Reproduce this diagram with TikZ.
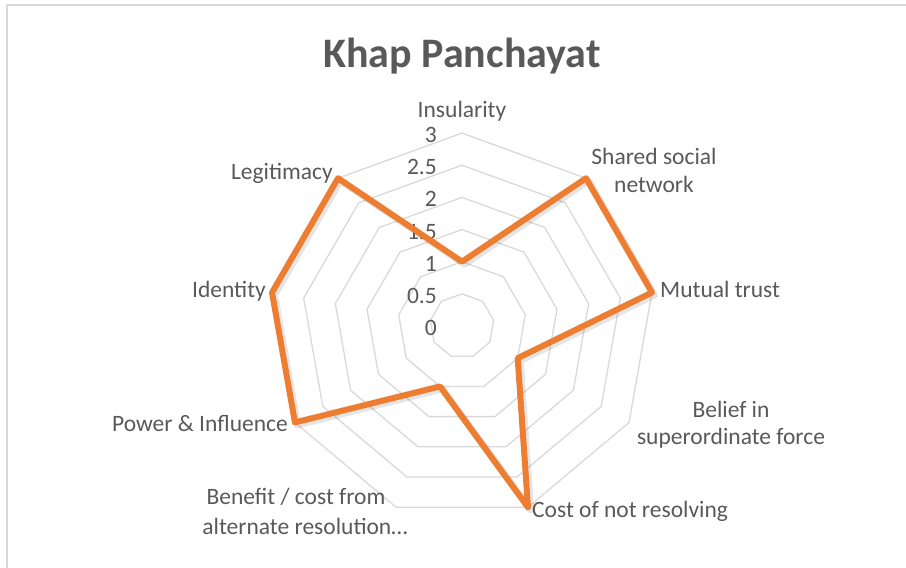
\documentclass[tikz,border=0pt]{standalone}
\usepackage{fontspec}
\setmainfont{Carlito}
\usetikzlibrary{calc}
\definecolor{txt}{HTML}{595959}
\definecolor{gridc}{HTML}{D9D9D9}
\definecolor{ser}{HTML}{ED7D31}
\newcommand\mynonagon[1]{(90:#1) -- (50:#1) -- (10:#1) -- (-30:#1) -- (-70:#1) -- (-110:#1) -- (-150:#1) -- (170:#1) -- (130:#1) -- cycle}
\begin{document}
\begin{tikzpicture}[x=1pt,y=1pt,
  lbl/.style={text=txt,font=\fontsize{23.5}{28.7}\selectfont,inner sep=0pt},
  tick/.style={lbl,anchor=base east},
  ringline/.style={draw=gridc,line width=1.3pt},
  series/.style={draw=ser,line width=6pt,line join=round},
  seriesshadow/.style={draw=black,line width=7pt,line join=round,opacity=0.10},
  frame/.style={draw=gridc,line width=2pt}]
\useasboundingbox (0,0) rectangle (906,568);
% chart frame (left and top edges visible)
\coordinate (fb) at (6.5,0);
\coordinate (fc) at (6.5,562.5);
\coordinate (fr) at (906,562.5);
\draw[frame] (fb) -- (fc) -- (fr);
\coordinate (c) at (462,242);
% grid rings
\foreach \v in {0.5,1.0,1.5,2.0,2.5,3.0}{
  \draw[ringline,shift={(c)}] \mynonagon{\v*64.3};
}
% tick labels
\foreach \v/\t in {0/0,0.5/0.5,1/1,1.5/1.5,2/2,2.5/2.5,3/3}{
  \node[tick] (t\v) at (437,{242+64.3*\v-9.5}) {\t};
}
% data points
\coordinate (p0) at ($(c)+(90:64.3)$);
\coordinate (p1) at ($(c)+(50:192.9)$);
\coordinate (p2) at ($(c)+(10:192.9)$);
\coordinate (p3) at ($(c)+(-30:64.3)$);
\coordinate (p4) at ($(c)+(-70:192.9)$);
\coordinate (p5) at ($(c)+(-110:64.3)$);
\coordinate (p6) at ($(c)+(-150:192.9)$);
\coordinate (p7) at ($(c)+(170:192.9)$);
\coordinate (p8) at ($(c)+(130:192.9)$);
\begin{scope}[transform canvas={shift={(2.5pt,-2.5pt)}}]
\draw[seriesshadow] (p0) -- (p1) -- (p2) -- (p3) -- (p4) -- (p5) -- (p6) -- (p7) -- (p8) -- cycle;
\end{scope}
\draw[series] (p0) -- (p1) -- (p2) -- (p3) -- (p4) -- (p5) -- (p6) -- (p7) -- (p8) -- cycle;
% title
\node[text=txt,font=\fontsize{42}{50}\selectfont\bfseries,anchor=base,inner sep=0pt] (title) at (462,500) {Khap Panchayat};
% category labels
\node[lbl,anchor=base] (l0) at (462,450) {Insularity};
\node[lbl,anchor=base] (l1a) at (654,403) {Shared social};
\node[lbl,anchor=base] (l1b) at (654,375) {network};
\node[lbl,anchor=base west] (l2) at (660,270) {Mutual trust};
\node[lbl,anchor=base] (l3a) at (731,150) {Belief in};
\node[lbl,anchor=base] (l3b) at (731,123) {superordinate force};
\node[lbl,anchor=base west] (l4) at (532,50) {Cost of not resolving};
\node[lbl,anchor=base] (l5a) at (296,63) {Benefit / cost from};
\node[lbl,anchor=base] (l5b) at (305,33) {alternate resolution…};
\node[lbl,anchor=base east] (l6) at (288,136) {Power \& Influence};
\node[lbl,anchor=base east] (l7) at (266,270) {Identity};
\node[lbl,anchor=base east] (l8) at (333,388) {Legitimacy};
\end{tikzpicture}
\end{document}
